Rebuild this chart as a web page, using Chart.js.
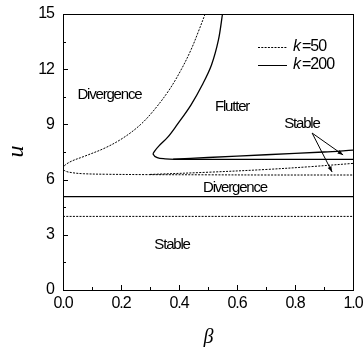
<!DOCTYPE html>
<html>
<head>
<meta charset="utf-8">
<script src="https://cdn.jsdelivr.net/npm/chart.js@4"></script>
<style>
  html, body { margin: 0; padding: 0; background: #fff; }
  #wrap { width: 363px; height: 347px; }
</style>
</head>
<body>
<div id="wrap"><canvas id="myChart" width="363" height="347"></canvas></div>
<script>
// stability map, u against beta, for two stiffness values

// k = 50 (dashed): upper branch, nose at beta = 0, lower branch
const k50Beta = [0.490, 0.469, 0.441, 0.407, 0.366, 0.314, 0.266, 0.207, 0.145, 0.076, 0.024, 0, 0.006, 0.03, 0.07, 0.15, 0.3, 0.5, 0.7, 1.0];
const k50U    = [15, 14.13, 13.04, 11.96, 10.87, 9.78, 8.97, 8.26, 7.72, 7.28, 6.96, 6.66, 6.48, 6.38, 6.32, 6.29, 6.27, 6.26, 6.25, 6.25];
const k50RiseBeta = [0.3, 0.5, 0.7, 0.85, 1.0];
const k50RiseU    = [6.28, 6.4, 6.55, 6.7, 6.88];
const k50Div = 4.0;

// k = 200 (solid)
const k200Beta = [0.550, 0.536, 0.512, 0.480, 0.441, 0.393, 0.362, 0.331, 0.316, 0.311, 0.325, 0.352, 0.386, 0.43, 1.0];
const k200U    = [15, 13.59, 12.23, 11.14, 10.05, 8.97, 8.32, 7.83, 7.55, 7.38, 7.2, 7.13, 7.1, 7.1, 7.1];
const k200RiseBeta = [0.38, 0.5, 0.7, 0.9, 1.0];
const k200RiseU    = [7.11, 7.2, 7.35, 7.5, 7.6];
const k200Div = 5.07;

const xTicks = [0, 0.2, 0.4, 0.6, 0.8, 1.0];
const yTicks = [0, 3, 6, 9, 12, 15];

// region labels (text, beta, u)
const regionText = ['Divergence', 'Flutter', 'Stable', 'Divergence', 'Stable'];
const regionBeta = [0.16, 0.583, 0.824, 0.593, 0.376];
const regionU    = [10.6, 9.95, 9.02, 5.54, 2.45];

// arrows from the right hand "Stable" label
const arrowFrom = [0.859, 8.53];
const arrowTo   = [[0.966, 7.34], [0.928, 6.41]];

const toPts = (xs, ys) => xs.map((x, i) => ({x: x, y: ys[i]}));
const hLine = (u) => [{x: 0, y: u}, {x: 1, y: u}];

const dashed = [2, 1.3];
const base = {showLine: true, pointRadius: 0, borderColor: '#000', backgroundColor: 'transparent', tension: 0.35, fill: false};

const noPad = (s) => { s.paddingLeft = 0; s.paddingRight = 0; s.paddingTop = 0; s.paddingBottom = 0; };

const extras = {
    id: 'extras',
    beforeDraw(chart) {
        chart.ctx.letterSpacing = '-1px';
    },
    afterDraw(chart) {
        const ctx = chart.ctx;
        const a = chart.chartArea;
        const xs = chart.scales.x, ys = chart.scales.y;
        ctx.save();
        ctx.strokeStyle = '#000';
        ctx.fillStyle = '#000';
        ctx.lineWidth = 1;

        // frame
        ctx.strokeRect(a.left + 0.5, a.top + 0.5, a.right - a.left, a.bottom - a.top);

        // inward ticks, minor every half step
        for (let i = 0; i <= 10; i++) {
            const px = Math.round(xs.getPixelForValue(i / 10)) + 0.5;
            const len = i % 2 === 0 ? 5 : 3;
            ctx.beginPath(); ctx.moveTo(px, a.bottom); ctx.lineTo(px, a.bottom - len); ctx.stroke();
        }
        for (let i = 0; i <= 10; i++) {
            const py = Math.round(ys.getPixelForValue(i * 1.5)) + 0.5;
            const len = i % 2 === 0 ? 5 : 3;
            ctx.beginPath(); ctx.moveTo(a.left, py); ctx.lineTo(a.left + len, py); ctx.stroke();
        }

        // region labels
        ctx.letterSpacing = '-1.2px';
        ctx.font = '15px "Liberation Sans", Arial, sans-serif';
        ctx.textAlign = 'center';
        ctx.textBaseline = 'middle';
        regionText.forEach((t, i) => {
            ctx.fillText(t, xs.getPixelForValue(regionBeta[i]), ys.getPixelForValue(regionU[i]));
        });

        // arrows
        const fx = xs.getPixelForValue(arrowFrom[0]), fy = ys.getPixelForValue(arrowFrom[1]);
        arrowTo.forEach(p => {
            const tx = xs.getPixelForValue(p[0]), ty = ys.getPixelForValue(p[1]);
            ctx.beginPath(); ctx.moveTo(fx, fy); ctx.lineTo(tx, ty); ctx.stroke();
            const ang = Math.atan2(ty - fy, tx - fx);
            ctx.beginPath();
            ctx.moveTo(tx, ty);
            ctx.lineTo(tx - 6 * Math.cos(ang - 0.35), ty - 6 * Math.sin(ang - 0.35));
            ctx.lineTo(tx - 6 * Math.cos(ang + 0.35), ty - 6 * Math.sin(ang + 0.35));
            ctx.closePath();
            ctx.fill();
        });

        // legend
        const lx0 = a.right - 95, lx1 = a.right - 66;
        const rows = [{y: a.top + 33, dash: dashed, label: '50'}, {y: a.top + 51, dash: [], label: '200'}];
        ctx.textAlign = 'left';
        rows.forEach(r => {
            ctx.setLineDash(r.dash);
            ctx.beginPath(); ctx.moveTo(lx0, r.y + 0.5); ctx.lineTo(lx1, r.y + 0.5); ctx.stroke();
            ctx.setLineDash([]);
            ctx.letterSpacing = '0px';
            ctx.font = 'italic 16px "Liberation Sans", Arial, sans-serif';
            ctx.fillText('k', lx1 + 6, r.y);
            const kw = ctx.measureText('k').width;
            ctx.letterSpacing = '-1px';
            ctx.font = '16px "Liberation Sans", Arial, sans-serif';
            ctx.fillText('=' + r.label, lx1 + 6 + kw + 1, r.y);
        });
        ctx.restore();
    }
};

const ctx = document.getElementById('myChart').getContext('2d');
const myChart = new Chart(ctx, {
    type: 'scatter',
    data: {
        datasets: [
            {...base, data: toPts(k50Beta, k50U), borderWidth: 1, borderDash: dashed},
            {...base, data: toPts(k50RiseBeta, k50RiseU), borderWidth: 1, borderDash: dashed},
            {...base, data: hLine(k50Div), borderWidth: 1, borderDash: dashed, tension: 0},
            {...base, data: toPts(k200Beta, k200U), borderWidth: 1.3},
            {...base, data: toPts(k200RiseBeta, k200RiseU), borderWidth: 1.3},
            {...base, data: hLine(k200Div), borderWidth: 1.3, tension: 0}
        ]
    },
    options: {
        responsive: false,
        animation: false,
        layout: {padding: {top: 14, right: 10, left: 0, bottom: 0}},
        scales: {
            x: {
                type: 'linear',
                min: 0, max: 1,
                afterFit: (s) => { s.height = 57; noPad(s); },
                afterBuildTicks: (s) => { s.ticks = xTicks.map(v => ({value: v})); },
                grid: {display: false, drawTicks: false},
                border: {display: true, color: '#000', width: 1},
                ticks: {
                    padding: 4,
                    color: '#000',
                    font: {family: '"Liberation Sans", Arial, sans-serif', size: 16},
                    callback: (v) => v.toFixed(1)
                },
                title: {
                    display: true, text: 'β', color: '#000',
                    font: {family: '"Liberation Serif", "Times New Roman", serif', size: 20, style: 'italic', lineHeight: 0.9},
                    padding: {top: 0, bottom: 0}
                }
            },
            y: {
                type: 'linear',
                min: 0, max: 15,
                afterFit: (s) => { s.width = 63; noPad(s); },
                afterBuildTicks: (s) => { s.ticks = yTicks.map(v => ({value: v})); },
                grid: {display: false, drawTicks: false},
                border: {display: true, color: '#000', width: 1},
                ticks: {
                    padding: 9,
                    color: '#000',
                    font: {family: '"Liberation Sans", Arial, sans-serif', size: 16}
                },
                title: {
                    display: true, text: 'u', color: '#000',
                    font: {family: '"Liberation Serif", "Times New Roman", serif', size: 24, style: 'italic', lineHeight: 1},
                    padding: {top: 5, bottom: 0}
                }
            }
        },
        plugins: {
            legend: {display: false},
            tooltip: {enabled: false}
        }
    },
    plugins: [extras]
});
</script>
</body>
</html>
